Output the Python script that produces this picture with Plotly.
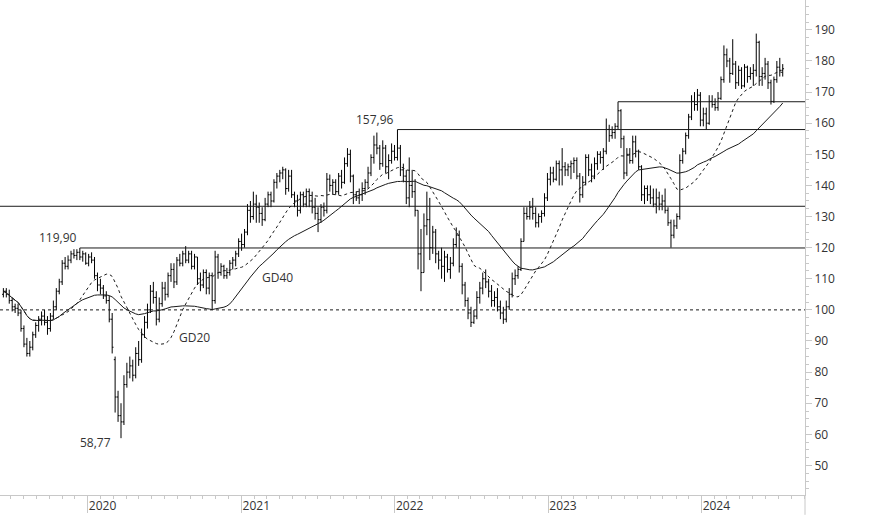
import pandas as pd
import plotly.graph_objects as go

# Weekly OHLC bars
opens = [105,106,105,103,101,100.5,99,94,89,86,88,92,95,97,98,96,94,98,101,106,
         109,115,114,116,118,117.5,118.5,117,118,115,117,116,111,108,107,104.5,103,97,84,72,
         66,64,76,80,82,79,86,84,92,96,100,106,104,97,102,107,105,111,113,109,
         116,115,118,116,118,114,117,110,108,112,107,111,103,117,112,114,111,112,115,116,
         118,122,121,125,132,130,134,133,131,129,134,137,135,141,143,144,145,139,143,137,
         135,132,137,134,138,135,133,131,129,133,132,142,140,141,138,143,141,147,150,143,
         137,136,137,139,141,144,149,153,152,147,152,146,148,151,149,152,145,143,136,140,
         138,132,118,112,127,129,120,125,118,116,114,117,113,115,121,124,114,108,103,99,
         96,98,104,107,110,109,106,103,104,101,99,97,101,105,110,111,113,122,131,130,
         133,131,128,130,131,136,142,144,142,147,145,146,145,146,147,148,143,137,141,149,
         145,143,147,150,149,151,158,156,157,159,164,155,144,150,148,154,151,146,137,139,
         137,136,134,136,134,135,132,128,124,127,130,148,151,156,162,167,166,169,161,163,
         160,167,166,165,168,174,182,180,176,179,173,177,172,178,175,176,177,186,175,176,
         179,173,167,174,178,177]
highs = [107,107,106.5,104,102,102,100,95,91,90,93,96,98,99.5,100,98,99,103,107,110,
         116,117,117.5,119,119.5,119.5,119.9,119,118.5,118,118.5,117,112,110,108,106,104.5,99,85,74,
         70,79,83,85,84,88,90,94,98,102,108,109,106,104,109,109,112,115,115,117,
         118,119,120.5,119,119,118,117,112,113,113,112,112,119,118,115,114.5,113.5,116,117,119,
         123,124.5,126,134,135,138,137,134.5,133,136,138,138,142,144,145,146,145.5,145,145,138,
         137,138,138,139,139,138,136,133,134,134.5,144,143.5,142,142,144,145,149,152,151.5,143.5,
         138,139,141,142,146,150,156,157,153,154.5,153,150,153.5,153,157.96,153,147,145,149,145,
         142,132,126,131,138,136,127,126,119,120,119,118,117,123,126.5,125.5,115,109,104,101,
         100,106,109,112,113,110,108,106,107,103,101,103,107,112,113,114,123,133,133,135,
         136,133,131,132,137.5,144,146,146,148,148,152,147.5,147,148,149,149,144,143,150,150,
         147,149,151,151,152,161.5,159.5,159,160,166.9,164.5,156,152,152,156,156,151.5,146.5,140,140,
         140,139,139,138,137,139,133,129,129,131,150,152,157,163,169,170,171,170,165,165,
         169,169,168,170,175,185,184,181,187,180,178.5,178,179,178.5,178,179,188.8,186.5,178,181,
         180,174,175,180,181,179]
lows = [104,104,102,99.5,99,98,93,88,85,85,87,91,93,95,95,92,93,97,100,105,
        108,113,113,115,116.5,116,116,115.5,114.5,114,115,110,106,105,103.5,102,96,86,67,64,
        58.77,63,75,78,77,78,82,83,91,94,99,102,95,96,101,103,104,109,107,108,
        114,114,115,115,113,113,108,106,107,105,105,100,102,110,111,110,110,111,113,114,
        117,119,120,124,128,129,128,128,127,128.5,133,133,134.5,139,141,142,137,138,136,133,
        130,131,133,133,133,131,129,125,128,130,131,138,137,137,137,139,140.5,146,141,134,
        135,134,135,137,139,143,147,150,145,146,144,142,147,148,148,143,141,134,133,136,
        130,113,106,112,124,116,118,115,113,110,109,112,110,114,120,112,105,101,97,94.5,
        95.5,97,102,105,107,104,101,101,99.5,97,95.5,96,100,104,108,110,112.5,122,129,129,
        129,126.5,126.5,128,130,135,140,141,141.5,140,140,143,143,142,144,142,134.5,136,140,143,
        141,142,145,147,145,150,154,155,155,158,152,142,143,147,147,149,145,135,134,135,
        134,133,131,132,132,131,127,120,123,126,129,147,150,155,161,164,164,159,159,158,
        159.5,165,164,164,167.5,173,178,173,175.5,171,172,171,171.5,173,174,172,175,172,172,174,
        171,166,166.5,173,175,175]
closes = [106,105,103,101,100.5,99,94,89,86,88,92,95,97,98,96,94,98,101,106,109,
          115,114,116,118,117.5,118.5,117,118,115,117,116,111,108,107,104.5,103,97,88,72,66,
          64,76,80,82,79,86,84,92,96,100,106,104,97,102,107,105,111,113,109,116,
          115,118,116,118,114,117,110,108,112,107,111,103,117,112,114,111,112,115,116,118,
          122,121,125,132,130,134,133,131,129,134,137,135,141,143,144,145,139,143,137,135,
          132,137,134,138,135,133,131,129,133,132,142,140,141,138,143,141,147,150,143,137,
          136,137,139,141,144,149,153,152,147,152,146,148,151,149,152,145,143,136,140,138,
          132,118,112,127,129,120,125,118,116,114,117,113,115,121,124,114,108,103,99,96,
          98,104,107,110,109,106,103,104,101,99,97,101,105,110,111,113,122,131,130,133,
          131,128,130,131,136,142,144,142,147,145,146,145,146,147,148,143,137,141,149,145,
          143,147,150,149,151,158,156,157,159,164,155,144,150,148,154,151,146,137,139,137,
          136,134,136,134,135,132,128,124,127,130,148,151,156,162,167,166,169,161,163,160,
          167,166,165,168,174,182,180,176,179,173,177,172,178,175,176,177,186,175,176,179,
          173,167,174,178,177,177.5]

first_week = "2019-06-14"
dates = pd.date_range(first_week, periods=len(closes), freq="7D")

# Horizontal levels: (value, index of bar where line starts)
level_values = [119.90, 133.3, 157.96, 166.9]
level_start_idx = [26, 0, 134, 209]
ref_level = 100

s = pd.Series(closes)
gd20 = s.rolling(20, min_periods=1).mean()
gd40 = s.rolling(40, min_periods=1).mean()

x_range = ["2019-06-06", "2024-09-03"]
y_range = [40.5, 199.6]
INK = "#1a1a1a"
AXIS = "#c8c8c8"
TXT = "#333333"
FONT = "Open Sans"

fig = go.Figure()

# Levels
for v, i0 in zip(level_values, level_start_idx):
    x0 = x_range[0] if i0 == 0 else dates[i0]
    fig.add_trace(go.Scatter(x=[x0, x_range[1]], y=[v, v], mode="lines",
                             line=dict(color=INK, width=1), hoverinfo="skip"))
fig.add_trace(go.Scatter(x=x_range, y=[ref_level, ref_level], mode="lines",
                         line=dict(color=INK, width=1, dash="3px,3px"), hoverinfo="skip"))

# Moving averages
fig.add_trace(go.Scatter(x=dates, y=gd20, mode="lines",
                         line=dict(color=INK, width=1, dash="3px,3px"), name="GD20"))
fig.add_trace(go.Scatter(x=dates, y=gd40, mode="lines",
                         line=dict(color=INK, width=1), name="GD40"))

# Bars
fig.add_trace(go.Ohlc(x=dates, open=opens, high=highs, low=lows, close=closes,
                      increasing=dict(line=dict(color="#000000", width=1)),
                      decreasing=dict(line=dict(color="#000000", width=1)),
                      tickwidth=0.45, name=""))

ann_font = dict(family=FONT, size=12, color=TXT)
fig.add_annotation(x=dates[26], y=119.90, text="119,90", showarrow=False,
                   xanchor="right", yanchor="bottom", xshift=-1, yshift=0, font=ann_font)
fig.add_annotation(x=dates[134], y=157.96, text="157,96", showarrow=False,
                   xanchor="right", yanchor="bottom", xshift=-1, yshift=0, font=ann_font)
fig.add_annotation(x=dates[40], y=58.77, text="58,77", showarrow=False,
                   xanchor="right", yanchor="top", xshift=-8, yshift=6, font=ann_font)
fig.add_annotation(x="2021-03-27", y=110.3, text="GD40", showarrow=False,
                   xanchor="center", yanchor="middle", font=ann_font)
fig.add_annotation(x="2020-09-10", y=91.0, text="GD20", showarrow=False,
                   xanchor="center", yanchor="middle", font=ann_font)

fig.add_shape(type="line", xref="paper", yref="paper", x0=1, x1=1, y0=-0.04, y1=0,
              line=dict(color=AXIS, width=1))

fig.update_layout(
    width=874, height=515,
    margin=dict(l=0, r=69, t=0, b=20),
    paper_bgcolor="white", plot_bgcolor="white",
    showlegend=False,
    font=dict(family=FONT, size=12, color=TXT),
    xaxis=dict(range=x_range, type="date", showgrid=False, zeroline=False,
               showline=True, linecolor=AXIS, linewidth=1,
               ticks="outside", ticklen=17, tickcolor=AXIS,
               tick0="2020-01-01", dtick="M12", tickformat="%Y",
               ticklabelposition="outside right",
               tickfont=dict(family=FONT, size=12, color=TXT),
               minor=dict(dtick="M1", ticks="outside", ticklen=3, tickcolor=AXIS),
               rangeslider=dict(visible=False), fixedrange=True),
    yaxis=dict(range=y_range, side="right", showgrid=False, zeroline=False,
               showline=True, linecolor=AXIS, linewidth=1,
               ticks="outside", ticklen=6, tickcolor=AXIS,
               tick0=0, dtick=10,
               tickfont=dict(family=FONT, size=12, color=TXT),
               minor=dict(dtick=2.5, ticks="outside", ticklen=3, tickcolor=AXIS),
               fixedrange=True),
)

fig.write_html("out.html")
